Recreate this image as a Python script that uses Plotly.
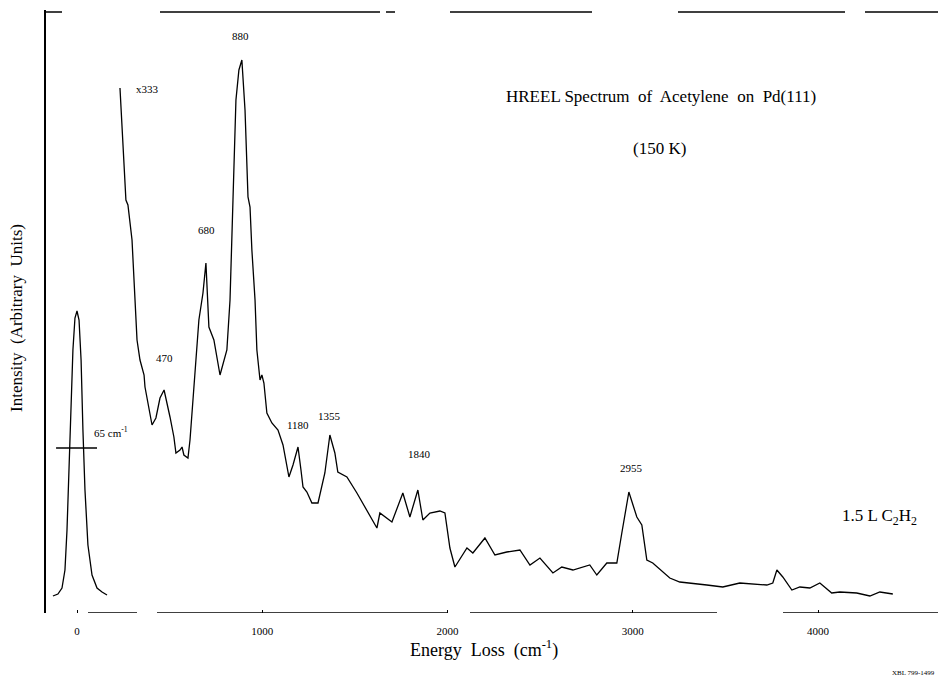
import plotly.graph_objects as go

# ---------------- data ----------------
elastic_E = [-130, -103, -81, -65, -54, -43, -32, -22, -11, 0, 11, 22, 32, 43, 59, 81, 108, 135, 162]
elastic_I = [16, 18, 24, 42, 82, 142, 212, 262, 294, 301, 292, 252, 182, 122, 67, 37, 24, 20, 17]

spec_E = [232, 264, 275, 297, 324, 340, 362, 367, 405, 426, 448, 470, 502, 523, 534, 556, 567, 577, 599, 610,
          658, 680, 696, 712, 739, 772, 809, 826, 842, 858, 874, 890, 907, 923, 934, 944, 961, 971, 988,
          998, 1009, 1025, 1052, 1085, 1112, 1128, 1144, 1166, 1193, 1209, 1220, 1241, 1268, 1301, 1338,
          1365, 1392, 1408, 1457, 1511, 1543, 1619, 1635, 1700, 1759, 1797, 1840, 1867, 1905, 1959, 1986,
          2013, 2040, 2105, 2137, 2202, 2256, 2320, 2391, 2445, 2499, 2569, 2617, 2677, 2768, 2806, 2860,
          2914, 2941, 2979, 3022, 3049, 3076, 3108, 3200, 3254, 3400, 3486, 3578, 3724, 3756, 3778, 3810,
          3859, 3902, 3956, 4010, 4074, 4118, 4209, 4280, 4334, 4404]
spec_I = [524, 412, 407, 372, 272, 252, 237, 225, 187, 194, 214, 222, 195, 175, 159, 162, 165, 157, 154, 172,
          292, 319, 349, 285, 272, 237, 262, 312, 412, 512, 542, 552, 502, 415, 405, 362, 312, 262, 232,
          237, 229, 199, 189, 182, 167, 152, 135, 147, 165, 142, 125, 120, 109, 109, 139,
          177, 159, 140, 135, 119, 109, 84, 99, 90, 119, 95, 122, 92, 99, 101, 99,
          64, 45, 64, 59, 74, 57, 60, 62, 47, 54, 39, 45, 42, 47, 37, 49,
          49, 79, 120, 95, 87, 52, 49, 34, 30, 27, 25, 29, 27, 29, 42, 35,
          22, 25, 24, 29, 19, 20, 19, 16, 20, 18]

peak_labels = ["x333", "880", "680", "470", "1180", "1355", "1840", "2955"]
peak_label_E = [383, 880, 701, 475, 1193, 1365, 1851, 2995]
peak_label_I = [523, 576, 382, 254, 187, 196, 158, 144]

tick_vals = [0, 1000, 2000, 3000, 4000]
tick_text = ["0", "1000", "2000", "3000", "4000"]

FONT = "Liberation Serif"
W, H = 938, 679
L, R, T, B = 46, 0, 10, 66


def px(xp):
    return (xp - L) / (W - L - R)


def py(yp):
    return 1 - (yp - T) / (H - T - B)


fig = go.Figure()
fig.add_trace(go.Scatter(x=elastic_E, y=elastic_I, mode="lines",
                         line=dict(color="black", width=1.3), hoverinfo="skip"))
fig.add_trace(go.Scatter(x=spec_E, y=spec_I, mode="lines",
                         line=dict(color="black", width=1.3), hoverinfo="skip"))

# FWHM marker
fig.add_shape(type="line", x0=-113, x1=108, y0=164, y1=164, xref="x", yref="y",
              line=dict(color="black", width=1.3))

# broken frame segments (scan look)
bottom_segs = [(88, 137), (157, 448), (470, 500), (500, 717), (783, 938)]
top_segs = [(46, 62), (160, 380), (386, 395), (450, 592), (678, 845), (865, 938)]
for a, b in bottom_segs:
    fig.add_shape(type="line", x0=px(a), x1=px(b), y0=-1, y1=-1, xref="paper", yref="y",
                  line=dict(color="black", width=1.5))
for a, b in top_segs:
    fig.add_shape(type="line", x0=px(a), x1=px(b), y0=600, y1=600, xref="paper", yref="y",
                  line=dict(color="black", width=1.5))

for t, e, i in zip(peak_labels, peak_label_E, peak_label_I):
    fig.add_annotation(x=e, y=i, text=t, showarrow=False, xref="x", yref="y",
                       xanchor="center", yanchor="middle",
                       font=dict(family=FONT, size=11, color="black"))

fig.add_annotation(x=82, y=180, text="65 cm<sup>-1</sup>", showarrow=False, xanchor="left",
                   yanchor="middle", xref="x", yref="y",
                   font=dict(family=FONT, size=11, color="black"))


def label(xp, yp, text, size, **kw):
    fig.add_annotation(x=px(xp), y=py(yp), xref="paper", yref="paper", text=text,
                       showarrow=False, yanchor="middle",
                       font=dict(family=FONT, size=size, color="black"), **kw)


label(661, 96, "HREEL Spectrum  of  Acetylene  on  Pd(111)", 17, xanchor="center")
label(659, 148, "(150 K)", 17, xanchor="center")
label(879, 517, "1.5 L C<sub>2</sub>H<sub>2</sub>", 17, xanchor="center")
label(484, 649, "Energy  Loss  (cm<sup>-1</sup>)", 18, xanchor="center")
label(16, 318, "Intensity  (Arbitrary  Units)", 17, xanchor="center", textangle=-90)
label(937, 673, "XBL 799-1499", 7, xanchor="right")

fig.update_layout(
    width=W, height=H,
    margin=dict(l=L, r=R, t=T, b=B),
    paper_bgcolor="white", plot_bgcolor="white",
    showlegend=False,
    xaxis=dict(range=[(L - 77) / 0.18525, (W - 77) / 0.18525], showgrid=False, zeroline=False,
               showline=False, tickvals=tick_vals, ticktext=tick_text, ticks="inside", ticklen=3,
               tickcolor="black", tickfont=dict(family=FONT, size=11, color="black"),
               ticklabelstandoff=10),
    yaxis=dict(range=[-1, 602], showgrid=False, zeroline=False, showticklabels=False,
               showline=True, linecolor="black", linewidth=1.5, ticks=""),
)

fig.write_html("out.html")
